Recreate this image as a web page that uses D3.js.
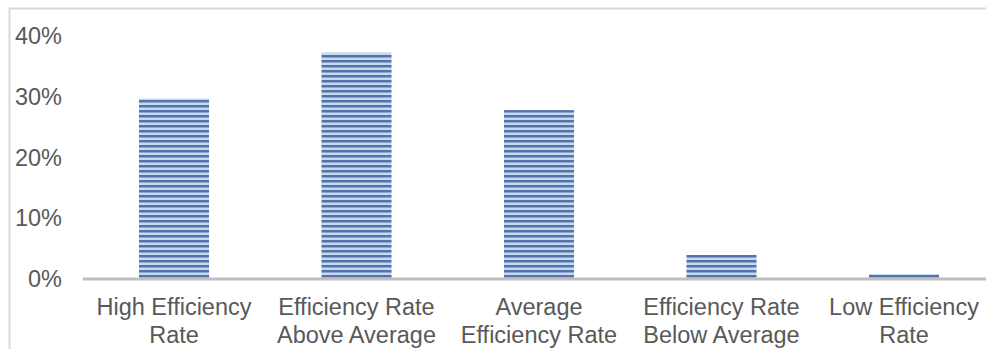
<!DOCTYPE html>
<meta charset="utf-8">
<style>
  body { margin: 0; background: #fff; }
  text { font-family: "Liberation Sans", Arial, sans-serif; fill: #595959; }
</style>
<script src="https://d3js.org/d3.v7.min.js"></script>
<div id="chart"></div>
<script>

// data
var categories = ["High Efficiency Rate", "Efficiency Rate Above Average", "Average Efficiency Rate", "Efficiency Rate Below Average", "Low Efficiency Rate"]
var labelLines = [["High Efficiency", "Rate"], ["Efficiency Rate", "Above Average"], ["Average", "Efficiency Rate"], ["Efficiency Rate", "Below Average"], ["Low Efficiency", "Rate"]]
var values = [0.297, 0.3725, 0.278, 0.0395, 0.008]
var yTicks = [0, 0.1, 0.2, 0.3, 0.4]

var width = 986, height = 349

var svg = d3.select("#chart").append("svg")
  .attr("width", width)
  .attr("height", height)

// chart frame (right / bottom edges are cut off)
svg.append("rect")
  .attr("x", 9.5).attr("y", 8.5)
  .attr("width", 1000).attr("height", 400)
  .attr("fill", "none")
  .attr("stroke", "#d9d9d9")
  .attr("stroke-width", 2)

// striped fill
var pat = svg.append("defs").append("pattern")
  .attr("id", "stripes")
  .attr("patternUnits", "userSpaceOnUse")
  .attr("width", 10).attr("height", 5)
pat.append("rect").attr("width", 10).attr("height", 5).attr("fill", "#c3daf3")
pat.append("rect").attr("width", 10).attr("height", 2.5).attr("fill", "#5572a9")

var x = d3.scaleBand()
  .domain(categories)
  .range([82.75, 995.25])
  .paddingInner(0.616)
  .paddingOuter(0.308)

var y = d3.scaleLinear()
  .domain([0, 0.4])
  .range([279, 36])

// y labels
svg.selectAll(".ylab")
  .data(yTicks)
  .enter().append("text")
  .attr("class", "ylab")
  .attr("x", 62)
  .attr("y", function(d) { return y(d) })
  .attr("dy", "0.35em")
  .attr("text-anchor", "end")
  .style("font-size", "23.5px")
  .text(d3.format(".0%"))

// bars
svg.selectAll(".bar")
  .data(values)
  .enter().append("rect")
  .attr("class", "bar")
  .attr("x", function(d, i) { return x(categories[i]) })
  .attr("width", x.bandwidth())
  .attr("y", function(d) { return y(d) })
  .attr("height", function(d) { return y(0) - y(d) })
  .attr("fill", "url(#stripes)")

// baseline
svg.append("line")
  .attr("x1", 82.75).attr("x2", 995.25)
  .attr("y1", 279).attr("y2", 279)
  .attr("stroke", "#bfbfbf")
  .attr("stroke-width", 3)

// category labels
var cl = svg.selectAll(".xlab")
  .data(categories)
  .enter().append("text")
  .attr("class", "xlab")
  .attr("text-anchor", "middle")
  .style("font-size", "23.5px")

cl.selectAll("tspan")
  .data(function(d, i) { return labelLines[i].map(function(t) { return { t: t, c: d } }) })
  .enter().append("tspan")
  .attr("x", function(d) { return x(d.c) + x.bandwidth() / 2 })
  .attr("y", function(d, j) { return 315 + j * 28 })
  .text(function(d) { return d.t })

</script>
